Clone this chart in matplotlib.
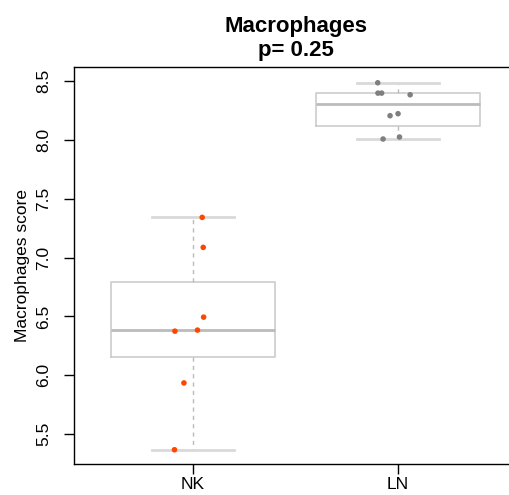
import numpy as np
import matplotlib
matplotlib.use("Agg")
import matplotlib.pyplot as plt

plt.rcParams['font.family'] = ['Liberation Sans', 'DejaVu Sans']

categories = ["NK", "LN"]
nk_values = [7.342, 7.087, 6.494, 6.375, 6.384, 5.935, 5.367]
nk_jitter = [0.045, 0.050, 0.052, -0.088, 0.022, -0.044, -0.090]
ln_values = [8.486, 8.398, 8.398, 8.384, 8.206, 8.223, 8.008, 8.025]
ln_jitter = [-0.099, -0.098, -0.080, 0.059, -0.039, 0.000, -0.073, 0.007]
point_colors = ["#FF4500", "#7F7F7F"]
title = "Macrophages\np= 0.25"
ylabel = "Macrophages score"
yticks = [5.5, 6.0, 6.5, 7.0, 7.5, 8.0, 8.5]


def fivenum(x):
    x = np.sort(np.asarray(x, float))
    n = len(x)
    n4 = np.floor((n + 3) / 2) / 2
    d = np.array([1, n4, (n + 1) / 2, n + 1 - n4, n])
    return 0.5 * (x[np.floor(d).astype(int) - 1] + x[np.ceil(d).astype(int) - 1])


fig = plt.figure(figsize=(5.09, 4.95), dpi=100)
ax = fig.add_axes([74 / 509, 1 - 464 / 495, (517 - 74) / 509, (464 - 67) / 495])

stats = []
for lab, vals in zip(categories, [nk_values, ln_values]):
    mn, q1, med, q3, mx = fivenum(vals)
    stats.append(dict(label=lab, whislo=mn, q1=q1, med=med, q3=q3, whishi=mx, fliers=[]))

ax.bxp(stats, positions=[1, 2], widths=0.8, showfliers=False,
       boxprops=dict(color="#CCCCCC", linewidth=1.2),
       medianprops=dict(color="#BBBBBB", linewidth=2.0),
       whiskerprops=dict(color="#BBBBBB", linewidth=1.0, linestyle=(0, (3, 3))),
       capprops=dict(color="#D9D9D9", linewidth=2.0),
       capwidths=0.4, zorder=1)

for i, (vals, jit) in enumerate([(nk_values, nk_jitter), (ln_values, ln_jitter)]):
    xs = np.full(len(vals), i + 1.0) + np.array(jit)
    ax.scatter(xs, vals, s=16, color=point_colors[i], edgecolors='none', zorder=3)

ax.set_xlim(0.42, 2.58)
ax.set_ylim(5.246, 8.62)
ax.set_xticks([1, 2])
ax.set_xticklabels(categories, fontsize=12.5)
ax.set_yticks(yticks)
ax.set_yticklabels([f"{v:.1f}" for v in yticks], rotation=90, va='center', fontsize=12.5)
ax.tick_params(axis='both', length=7, width=1)
ax.tick_params(axis='x', pad=2.5)
ax.tick_params(axis='y', pad=9.5)
ax.set_ylabel(ylabel, fontsize=12.5)
ax.yaxis.set_label_coords(-0.099, 0.5)
ax.set_title(title, fontsize=16, fontweight='bold', pad=8, linespacing=1.2)
for s in ax.spines.values():
    s.set_linewidth(1.0)

fig.savefig("out.png", dpi=100)
